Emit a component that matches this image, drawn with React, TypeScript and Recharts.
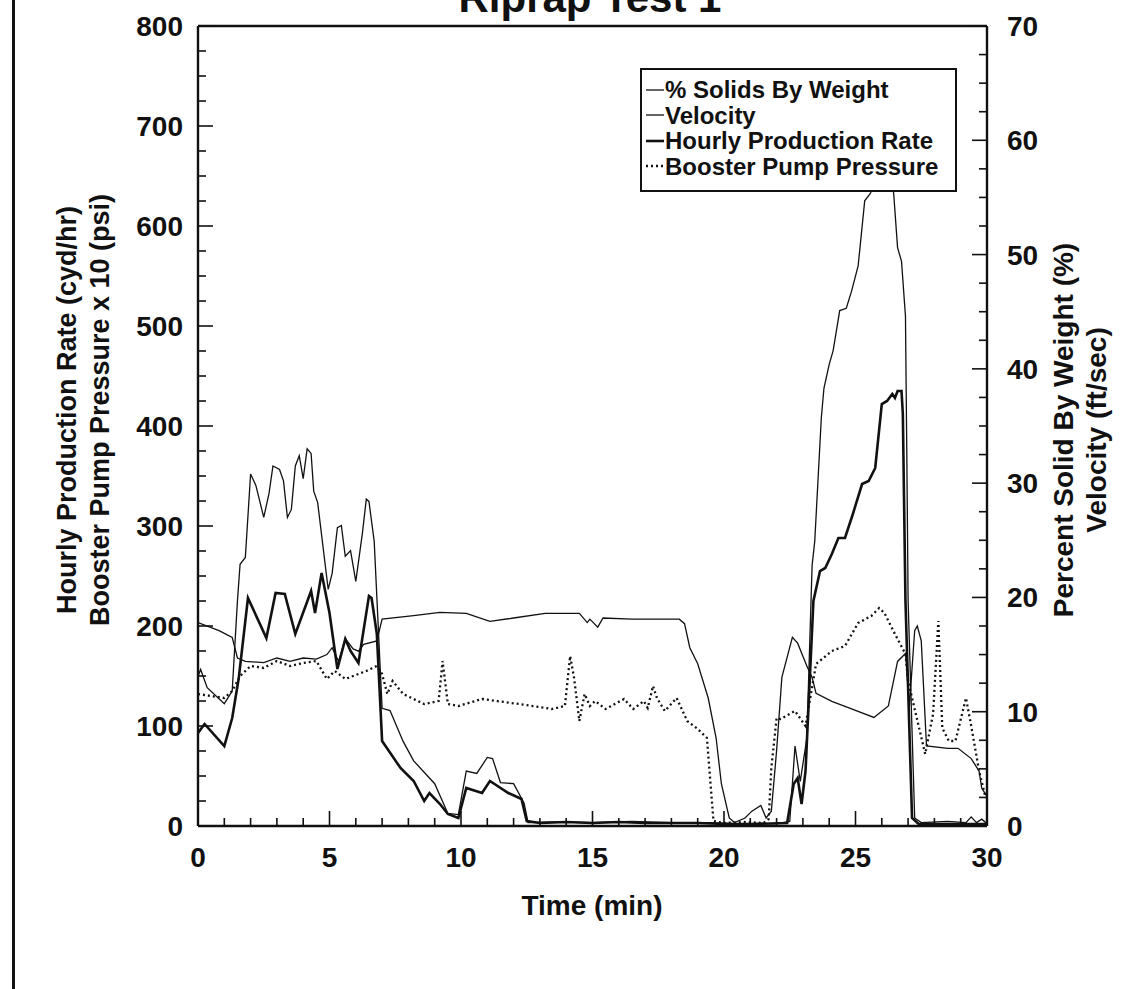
import { LineChart, Line, XAxis, YAxis, ReferenceLine } from "recharts";

// [time (min), value]
const solidsByWeight: [number, number][] = [
  [0, 13.1], [0.1, 13.7], [0.35, 12.1], [1.0, 10.7], [1.3, 11.8], [1.5, 19.7], [1.6, 22.9],
  [1.8, 23.5], [2.0, 30.8], [2.2, 29.8], [2.5, 27.0], [2.7, 29.1], [2.85, 31.5], [3.1, 31.2],
  [3.25, 30.2], [3.4, 27.0], [3.55, 27.7], [3.7, 31.5], [3.85, 32.4], [4.0, 30.4], [4.15, 33.0],
  [4.3, 32.6], [4.4, 29.3], [4.55, 28.3], [4.95, 20.7], [5.1, 22.1], [5.3, 26.1], [5.45, 26.3],
  [5.6, 23.6], [5.8, 24.1], [6.0, 21.4], [6.25, 25.6], [6.4, 28.6], [6.5, 28.4], [6.7, 24.9],
  [7.0, 10.3], [7.3, 10.1], [7.8, 7.4], [8.2, 5.7], [8.8, 4.2], [9.0, 3.7], [9.5, 1.1],
  [9.9, 1.0], [10.2, 4.8], [10.6, 4.6], [11.0, 6.0], [11.2, 5.9], [11.5, 3.8], [12.0, 3.7],
  [12.4, 2.0], [12.55, 0.3], [13.5, 0.35], [15.0, 0.3], [16.5, 0.4], [18.0, 0.3], [19.5, 0.3],
  [20.5, 0.2], [22.0, 0.2], [22.5, 0.4], [22.7, 7.0], [22.9, 3.9], [23.15, 7.7], [23.35, 22.8],
  [23.45, 24.9], [23.7, 35.7], [23.8, 38.3], [24.0, 40.4], [24.15, 41.6], [24.4, 45.1],
  [24.65, 45.3], [24.85, 46.8], [25.1, 49.0], [25.35, 54.7], [25.55, 55.3], [25.9, 56.8],
  [26.2, 56.8], [26.45, 55.4], [26.6, 50.6], [26.75, 49.4], [26.9, 44.6], [26.95, 32.8],
  [27.0, 19.7], [27.25, 0.7], [27.5, 0.3], [28.5, 0.4], [29.2, 0.3], [29.4, 0.8], [29.6, 0.3],
  [29.8, 0.6], [30, 0.2],
];

const velocity: [number, number][] = [
  [0, 17.8], [0.8, 17.1], [1.3, 16.5], [1.5, 14.7], [1.8, 14.4], [2.5, 14.3], [3.0, 14.7],
  [3.5, 14.4], [4.0, 14.7], [4.5, 14.6], [4.9, 15.0], [5.1, 15.6], [5.35, 14.4], [5.6, 16.4],
  [5.9, 15.5], [6.1, 15.3], [6.3, 15.9], [6.8, 16.2], [7.0, 18.1], [8.2, 18.4], [9.2, 18.7],
  [10.2, 18.6], [11.1, 17.9], [12.0, 18.2], [13.2, 18.6], [14.5, 18.6], [14.8, 17.8],
  [14.9, 18.1], [15.2, 17.4], [15.4, 18.2], [16.5, 18.1], [18.3, 18.1], [18.5, 17.7],
  [18.7, 15.6], [19.0, 14.2], [19.4, 11.2], [19.7, 7.7], [19.9, 3.7], [20.2, 0.7], [20.4, 0.3],
  [20.8, 0.7], [21.06, 1.3], [21.4, 1.8], [21.6, 0.7], [21.8, 1.3], [22.0, 6.6], [22.2, 13.0],
  [22.6, 16.5], [22.8, 16.0], [23.15, 14.0], [23.35, 13.0], [23.5, 11.6], [24.1, 10.9],
  [24.9, 10.2], [25.7, 9.5], [26.25, 10.5], [26.6, 14.4], [26.9, 15.1], [27.05, 10.5],
  [27.25, 17.1], [27.35, 17.5], [27.5, 16.2], [27.7, 7.0], [28.5, 6.8], [28.9, 6.8],
  [29.4, 5.9], [29.7, 4.8], [29.8, 3.3], [30, 2.6],
];

const productionRate: [number, number][] = [
  [0, 93], [0.25, 102], [1.0, 80], [1.3, 108], [1.55, 148], [1.9, 228], [2.6, 188], [2.95, 233],
  [3.3, 232], [3.7, 192], [4.3, 235], [4.45, 213], [4.7, 253], [5.0, 213], [5.3, 157],
  [5.6, 187], [5.8, 175], [6.1, 163], [6.5, 230], [6.6, 228], [6.8, 192], [7.0, 85], [7.7, 58],
  [8.2, 45], [8.6, 25], [8.8, 33], [9.2, 22], [9.5, 12], [9.9, 8], [10.2, 38], [10.8, 33],
  [11.1, 45], [11.8, 33], [12.3, 27], [12.5, 5], [13.0, 3], [14.0, 4], [15.0, 3], [16.0, 4],
  [17.0, 3], [18.0, 3], [19.0, 3], [20.0, 2], [21.0, 2], [22.4, 3], [22.65, 42], [22.8, 48],
  [22.95, 22], [23.1, 55], [23.4, 225], [23.65, 255], [23.85, 258], [24.1, 272], [24.35, 288],
  [24.6, 288], [24.9, 312], [25.25, 342], [25.5, 345], [25.75, 358], [26.0, 422], [26.2, 425],
  [26.4, 432], [26.5, 428], [26.6, 435], [26.75, 435], [26.8, 412], [26.9, 225], [27.15, 8],
  [27.4, 2], [30, 2],
];

const boosterPressure: [number, number][] = [
  [0, 132], [0.5, 130], [1.0, 128], [1.3, 135], [1.6, 150], [2.0, 160], [2.5, 158], [3.0, 165],
  [3.5, 160], [4.0, 163], [4.5, 165], [4.9, 147], [5.2, 155], [5.6, 147], [5.9, 150],
  [6.4, 155], [6.8, 160], [7.0, 152], [7.2, 132], [7.4, 145], [7.8, 132], [8.6, 122],
  [9.15, 125], [9.3, 165], [9.5, 122], [9.9, 120], [10.8, 127], [12.2, 122], [13.45, 117],
  [13.95, 120], [14.15, 170], [14.3, 148], [14.5, 105], [14.7, 132], [14.9, 120], [15.1, 125],
  [15.5, 117], [16.2, 127], [16.55, 117], [16.95, 125], [17.1, 118], [17.3, 140], [17.45, 128],
  [17.75, 115], [18.2, 128], [18.6, 105], [19.0, 97], [19.35, 88], [19.6, 5], [20.0, 3],
  [20.8, 4], [21.5, 3], [21.7, 7], [21.8, 58], [22.0, 108], [22.15, 107], [22.7, 115],
  [23.1, 100], [23.5, 162], [24.1, 175], [24.6, 180], [25.1, 203], [25.6, 210], [25.9, 218],
  [26.1, 213], [26.5, 192], [26.9, 172], [27.0, 145], [27.65, 72], [27.95, 112], [28.15, 205],
  [28.3, 98], [28.55, 85], [28.8, 85], [29.2, 128], [29.4, 100], [29.7, 55], [29.95, 28],
];

const xMajor = [0, 5, 10, 15, 20, 25, 30];
const leftMajor = [0, 100, 200, 300, 400, 500, 600, 700, 800];
const rightMajor = [0, 10, 20, 30, 40, 50, 60, 70];

const legendLabels = [
  "% Solids By Weight",
  "Velocity",
  "Hourly Production Rate",
  "Booster Pump Pressure",
];

const FONT = '"Liberation Sans", Arial, Helvetica, sans-serif';
const INK = "#111";

// minor tick positions (every 1 min, 25 units, 2.5 units)
const xTicks = Array.from({ length: 31 }, (_, i) => i);
const leftTicks = Array.from({ length: 33 }, (_, i) => i * 25);
const rightTicks = Array.from({ length: 29 }, (_, i) => i * 2.5);

const toRows = (pts: [number, number][]) => pts.map(([time, value]) => ({ time, value }));

function XTick({ x, y, payload }: any) {
  const v = payload.value;
  const major = xMajor.includes(v);
  return (
    <g>
      <line x1={x} y1={y} x2={x} y2={y - (major ? 15 : 8)} stroke={INK} strokeWidth={1.6} />
      {major && (
        <text x={x} y={y + 41} textAnchor="middle" fontSize={28} fontWeight="bold" fill={INK} fontFamily={FONT}>
          {v}
        </text>
      )}
    </g>
  );
}

function LeftTick({ x, y, payload }: any) {
  const v = payload.value;
  const major = leftMajor.includes(v);
  return (
    <g>
      <line x1={x} y1={y} x2={x + (major ? 15 : 8)} y2={y} stroke={INK} strokeWidth={1.6} />
      {major && (
        <text x={x - 15} y={y + 10} textAnchor="end" fontSize={28} fontWeight="bold" fill={INK} fontFamily={FONT}>
          {v}
        </text>
      )}
    </g>
  );
}

function RightTick({ x, y, payload }: any) {
  const v = payload.value;
  const major = rightMajor.includes(v);
  return (
    <g>
      <line x1={x} y1={y} x2={x - (major ? 15 : 8)} y2={y} stroke={INK} strokeWidth={1.6} />
      {major && (
        <text x={x + 20} y={y + 10} textAnchor="start" fontSize={28} fontWeight="bold" fill={INK} fontFamily={FONT}>
          {v}
        </text>
      )}
    </g>
  );
}

function RotatedPair({ lines, xs, cy, size }: { lines: string[]; xs: number[]; cy: number; size: number }) {
  return (
    <g>
      {lines.map((t, i) => (
        <text
          key={t}
          x={xs[i]}
          y={cy}
          transform={`rotate(-90, ${xs[i]}, ${cy})`}
          textAnchor="middle"
          fontSize={size}
          fontWeight="bold"
          fill={INK}
          fontFamily={FONT}
        >
          {t}
        </text>
      ))}
    </g>
  );
}

const sampleStyles = [
  { w: 1.3, dash: undefined },
  { w: 1.3, dash: undefined },
  { w: 2.6, dash: undefined },
  { w: 2.3, dash: "2 3" },
];

function LegendBox() {
  return (
    <div
      style={{
        position: "absolute",
        left: 640,
        top: 68,
        width: 317,
        height: 124,
        boxSizing: "border-box",
        border: `2px solid ${INK}`,
        background: "#fff",
        padding: "7px 0 0 4px",
        fontFamily: FONT,
        fontWeight: "bold",
        fontSize: 24,
        lineHeight: "25.5px",
        color: INK,
        zIndex: 2,
      }}
    >
      {legendLabels.map((label, i) => (
        <div key={label} style={{ display: "flex", alignItems: "center", whiteSpace: "nowrap" }}>
          <svg width={18} height={10} style={{ marginRight: 1 }}>
            <line x1={0} y1={5} x2={18} y2={5} stroke={INK} strokeWidth={sampleStyles[i].w} strokeDasharray={sampleStyles[i].dash} />
          </svg>
          <span>{label}</span>
        </div>
      ))}
    </div>
  );
}

export default function App() {
  return (
    <div style={{ position: "absolute", left: 0, top: 0, width: 1145, height: 989, background: "#fff", overflow: "hidden" }}>
      <div style={{ position: "absolute", left: 12, top: 0, width: 3, height: 989, background: INK }} />
      <div
        style={{
          position: "absolute",
          left: 0,
          width: 1180,
          top: -23,
          textAlign: "center",
          fontFamily: FONT,
          fontWeight: "bold",
          fontSize: 42,
          lineHeight: "42px",
          color: INK,
        }}
      >
        Riprap Test 1
      </div>
      <LegendBox />
      <div style={{ position: "absolute", left: 0, top: 0 }}>
        <LineChart width={1145} height={989} margin={{ top: 26, right: 58, bottom: 103, left: 98 }}>
          <XAxis
            dataKey="time"
            type="number"
            domain={[0, 30]}
            ticks={xTicks}
            interval={0}
            height={60}
            tickSize={0}
            tickMargin={0}
            tickLine={false}
            tick={<XTick />}
            axisLine={{ stroke: INK, strokeWidth: 2.4 }}
            allowDataOverflow
            label={{
              content: () => (
                <text x={592} y={915} textAnchor="middle" fontSize={28} fontWeight="bold" fill={INK} fontFamily={FONT}>
                  Time (min)
                </text>
              ),
            }}
          />
          <YAxis
            yAxisId="left"
            type="number"
            domain={[0, 800]}
            ticks={leftTicks}
            interval={0}
            width={100}
            tickSize={0}
            tickMargin={0}
            tickLine={false}
            tick={<LeftTick />}
            axisLine={{ stroke: INK, strokeWidth: 2.4 }}
            label={{
              content: () => (
                <RotatedPair
                  lines={["Hourly Production Rate (cyd/hr)", "Booster Pump Pressure x 10 (psi)"]}
                  xs={[76, 109]}
                  cy={410}
                  size={27}
                />
              ),
            }}
          />
          <YAxis
            yAxisId="right"
            orientation="right"
            type="number"
            domain={[0, 70]}
            ticks={rightTicks}
            interval={0}
            width={100}
            tickSize={0}
            tickMargin={0}
            tickLine={false}
            tick={<RightTick />}
            axisLine={{ stroke: INK, strokeWidth: 2.4 }}
            label={{
              content: () => (
                <RotatedPair
                  lines={["Percent Solid By Weight (%)", "Velocity (ft/sec)"]}
                  xs={[1073, 1106]}
                  cy={430}
                  size={28}
                />
              ),
            }}
          />
          <ReferenceLine yAxisId="left" y={800} stroke={INK} strokeWidth={2.4} />
          <Line
            yAxisId="right"
            data={toRows(solidsByWeight)}
            dataKey="value"
            type="linear"
            dot={false}
            stroke={INK}
            strokeWidth={1.3}
            isAnimationActive={false}
          />
          <Line
            yAxisId="right"
            data={toRows(velocity)}
            dataKey="value"
            type="linear"
            dot={false}
            stroke={INK}
            strokeWidth={1.3}
            isAnimationActive={false}
          />
          <Line
            yAxisId="left"
            data={toRows(productionRate)}
            dataKey="value"
            type="linear"
            dot={false}
            stroke={INK}
            strokeWidth={2.6}
            isAnimationActive={false}
          />
          <Line
            yAxisId="left"
            data={toRows(boosterPressure)}
            dataKey="value"
            type="linear"
            dot={false}
            stroke={INK}
            strokeWidth={2.3}
            strokeDasharray="2 3"
            isAnimationActive={false}
          />
        </LineChart>
      </div>
    </div>
  );
}
